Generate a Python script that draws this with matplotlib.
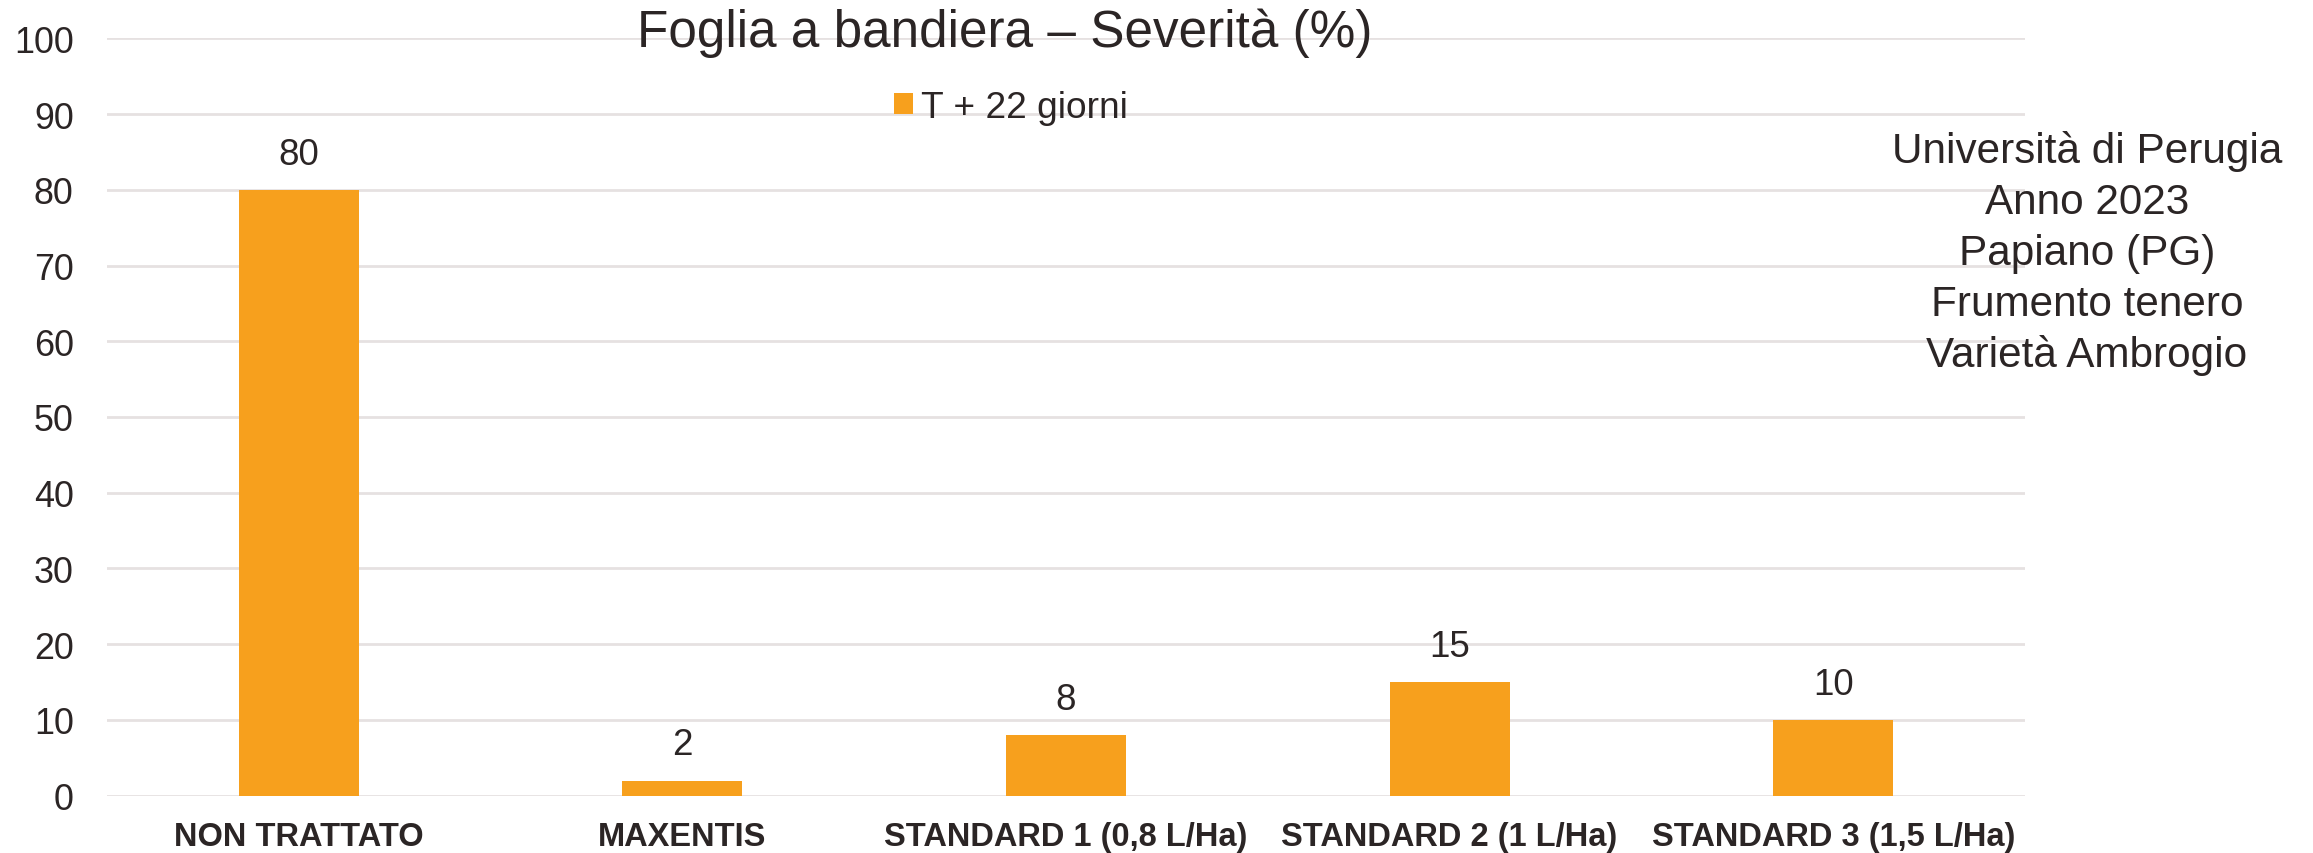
import matplotlib
matplotlib.use("Agg")
import matplotlib.pyplot as plt

categories = ["NON TRATTATO", "MAXENTIS", "STANDARD 1 (0,8 L/Ha)",
              "STANDARD 2 (1 L/Ha)", "STANDARD 3 (1,5 L/Ha)"]
values = [80, 2, 8, 15, 10]
series_name = "T + 22 giorni"
yticks = [0, 10, 20, 30, 40, 50, 60, 70, 80, 90, 100]
title = "Foglia a bandiera – Severità (%)"
note_lines = ["Università di Perugia", "Anno 2023", "Papiano (PG)",
              "Frumento tenero", "Varietà Ambrogio"]

BAR = "#F7A01D"
TXT = "#2B2525"
GRID = "#E6E1E1"

plt.rcParams['font.family'] = ['Liberation Sans', 'DejaVu Sans']

W, H = 2313, 854
fig = plt.figure(figsize=(W / 100, H / 100), dpi=100)
ax = fig.add_axes([107 / W, 1 - 796.7 / H, 1918 / W, (796.7 - 39.3) / H])

x = list(range(len(categories)))
ax.bar(x, values, width=0.313, color=BAR, label=series_name, zorder=3)
ax.set_xlim(-0.5, len(categories) - 0.5)
ax.set_ylim(0, 100)
ax.set_yticks(yticks)
ax.set_yticklabels([str(t) for t in yticks], fontsize=25.8, color=TXT)
ax.set_xticks(x)
ax.set_xticklabels(categories, fontsize=23.5, fontweight='bold', color=TXT)
ax.tick_params(axis='y', length=0, pad=24)
ax.tick_params(axis='x', length=0, pad=18)
for s in ax.spines.values():
    s.set_visible(False)
ax.yaxis.grid(True, color=GRID, linewidth=2, zorder=0)
ax.set_axisbelow(True)

for xi, v in zip(x, values):
    ax.annotate(str(v), (xi, v), xytext=(0, 13), textcoords='offset points',
                ha='center', va='bottom', fontsize=26.5, color=TXT)

fig.text(1005 / W, 1 - 47 / H, title, ha='center', va='baseline',
         fontsize=36.9, color=TXT)

leg = ax.legend(loc='center left', bbox_to_anchor=(894 / W, 1 - 108 / H),
                bbox_transform=fig.transFigure, frameon=False, borderpad=0,
                borderaxespad=0, handlelength=0.51, handleheight=0.51,
                handletextpad=0.22, fontsize=26.7)
for t in leg.get_texts():
    t.set_color(TXT)

note_baselines = [163, 214, 265, 316, 367]
for line, yb in zip(note_lines, note_baselines):
    fig.text(2087 / W, 1 - yb / H, line, ha='center', va='baseline',
             fontsize=30.4, color=TXT)

fig.savefig("out.png", dpi=100, facecolor='white')
